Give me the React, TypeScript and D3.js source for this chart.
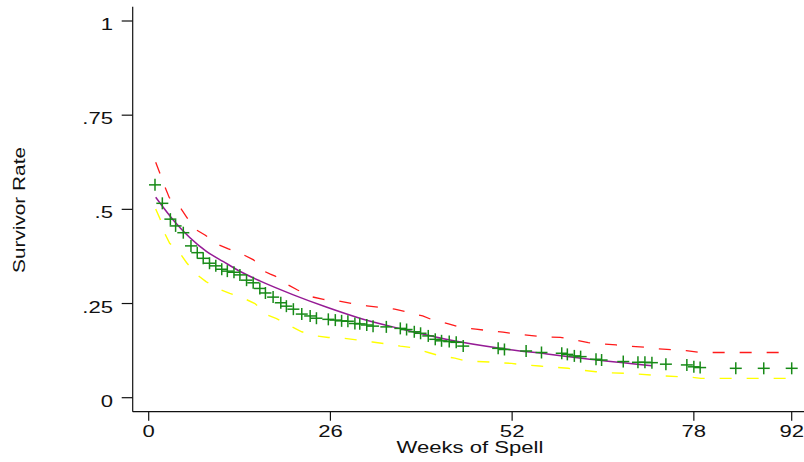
import React from "react";
import * as d3 from "d3";

// Kaplan-Meier estimates (green plus markers)
const kmWeeks = [0.9, 1.95, 3.1, 3.85, 4.95, 6.05, 6.95, 7.8, 8.7, 9.6, 10.45, 11.25, 12.2, 13.05, 14.0, 14.95, 15.9, 16.7, 17.8, 18.9, 19.7, 20.7, 21.9, 23.1, 24.0, 25.7, 26.7, 27.6, 28.5, 29.5, 30.2, 31.2, 32.1, 34.0, 36.0, 36.9, 38.0, 38.9, 40.0, 41.0, 41.9, 43.0, 44.0, 45.0, 50.0, 50.9, 54.0, 56.2, 59.1, 59.9, 60.9, 61.8, 64.0, 64.8, 67.9, 70.0, 71.0, 72.0, 74.0, 77.0, 78.0, 78.9, 84.0, 88.0, 92.0];
const kmSurv = [0.565, 0.516, 0.474, 0.456, 0.438, 0.403, 0.385, 0.370, 0.357, 0.350, 0.341, 0.336, 0.333, 0.326, 0.312, 0.305, 0.290, 0.278, 0.267, 0.252, 0.243, 0.235, 0.222, 0.217, 0.211, 0.208, 0.206, 0.204, 0.203, 0.197, 0.196, 0.193, 0.190, 0.188, 0.184, 0.181, 0.175, 0.171, 0.164, 0.155, 0.151, 0.149, 0.147, 0.137, 0.131, 0.128, 0.124, 0.120, 0.118, 0.115, 0.111, 0.109, 0.102, 0.100, 0.096, 0.094, 0.094, 0.093, 0.089, 0.087, 0.082, 0.080, 0.078, 0.078, 0.078];

// Fitted survivor curve (purple)
const fitWeeks = [1, 3.5, 8.3, 10.7, 13.1, 15.9, 20.7, 25.5, 30.2, 36.5, 43.1, 50.3, 57, 63.1, 72];
const fitSurv = [0.532, 0.472, 0.388, 0.361, 0.335, 0.31, 0.273, 0.24, 0.211, 0.181, 0.153, 0.131, 0.116, 0.102, 0.085];

// Upper confidence band (red dashed)
const upWeeks = [1, 1.6, 2.2, 2.95, 4.5, 5.4, 6.6, 8.05, 9.9, 11.4, 13.4, 15, 16.5, 17.4, 18.1, 19.7, 21.3, 23.3, 25, 27.1, 29, 31.2, 32.9, 35.2, 36.9, 39.2, 40.7, 42.9, 44.5, 46.8, 48.6, 50.7, 52.7, 54.8, 56.7, 58.9, 60.5, 62.9, 64.6, 66.9, 68.6, 71, 72.7, 75, 76.9, 79, 92];
const upSurv = [0.625, 0.596, 0.565, 0.531, 0.505, 0.48, 0.448, 0.432, 0.407, 0.395, 0.381, 0.366, 0.336, 0.328, 0.323, 0.302, 0.286, 0.268, 0.261, 0.257, 0.25, 0.244, 0.24, 0.235, 0.228, 0.217, 0.206, 0.196, 0.187, 0.182, 0.178, 0.174, 0.169, 0.165, 0.161, 0.16, 0.155, 0.146, 0.143, 0.14, 0.137, 0.134, 0.13, 0.127, 0.125, 0.12, 0.12];

// Lower confidence band (yellow dashed)
const loWeeks = [1, 1.6, 2.3, 3, 4.5, 5.4, 6.8, 8.2, 10.1, 11.6, 13.8, 15.2, 16.8, 18.3, 20.3, 21.9, 24, 25.7, 27.8, 30, 32, 34, 36, 37.6, 40, 41.7, 43.8, 45.5, 47.9, 49.5, 51.9, 53.6, 55.9, 57.4, 60, 61.7, 64, 65.8, 68, 69.8, 72.1, 73.9, 76, 77.8, 79, 92];
const loSurv = [0.501, 0.476, 0.436, 0.41, 0.383, 0.359, 0.328, 0.308, 0.288, 0.277, 0.262, 0.25, 0.221, 0.21, 0.19, 0.175, 0.164, 0.16, 0.158, 0.153, 0.148, 0.143, 0.137, 0.133, 0.12, 0.111, 0.105, 0.097, 0.0956, 0.094, 0.091, 0.0876, 0.084, 0.082, 0.078, 0.0735, 0.069, 0.066, 0.065, 0.063, 0.06, 0.0576, 0.0557, 0.054, 0.0514, 0.0514];

const xTicks = [0, 26, 52, 78, 92];
const yTicks = [0, 0.25, 0.5, 0.75, 1];
const yTickLabels = ["0", ".25", ".5", ".75", "1"];
const xTitle = "Weeks of Spell";
const yTitle = "Survivor Rate";

const W = 804;
const H = 462;
const FONT = "'Liberation Sans', Arial, Helvetica, sans-serif";

export default function App() {
  const x = d3.scaleLinear().domain([0, 92]).range([148.7, 791.7]);
  const y = d3.scaleLinear().domain([0, 1]).range([397.7, 21]);
  const axisX = 132.7;
  const axisY = 411.7;

  const pts = (ws: number[], vs: number[]) => ws.map((w, i) => [w, vs[i]] as [number, number]);
  const lineLin = d3.line<[number, number]>().x((d) => x(d[0])).y((d) => y(d[1]));
  const lineSmooth = d3
    .line<[number, number]>()
    .x((d) => x(d[0]))
    .y((d) => y(d[1]))
    .curve(d3.curveMonotoneX);

  const km = pts(kmWeeks, kmSurv);
  const hs = 6;

  return (
    <svg
      width={W}
      height={H}
      style={{ position: "absolute", left: 0, top: 0, background: "#fff" }}
      fontFamily={FONT}
    >
      <rect x={0} y={0} width={W} height={H} fill="#fff" />
      {/* axes */}
      <line x1={axisX} y1={6.7} x2={axisX} y2={axisY} stroke="#111" strokeWidth={1.2} />
      <line x1={axisX} y1={axisY} x2={W} y2={axisY} stroke="#111" strokeWidth={1.2} />
      {yTicks.map((t, i) => (
        <g key={"yt" + i}>
          <line x1={121.7} x2={axisX} y1={y(t)} y2={y(t)} stroke="#111" strokeWidth={1.2} />
          <text
            transform={`translate(113,${y(t) + 9}) scale(1.38,1)`}
            textAnchor="end"
            fontSize={16}
            fill="#111"
          >
            {yTickLabels[i]}
          </text>
        </g>
      ))}
      {xTicks.map((t, i) => (
        <g key={"xt" + i}>
          <line x1={x(t)} x2={x(t)} y1={axisY} y2={420.7} stroke="#111" strokeWidth={1.2} />
          <text
            transform={`translate(${x(t)},436.7) scale(1.38,1)`}
            textAnchor="middle"
            fontSize={16}
            fill="#111"
          >
            {t}
          </text>
        </g>
      ))}
      <text
        transform={`translate(470,453.3) scale(1.38,1)`}
        textAnchor="middle"
        fontSize={16}
        fill="#111"
      >
        {xTitle}
      </text>
      <text
        transform={`translate(25,210) rotate(-90) scale(1.3,1)`}
        textAnchor="middle"
        fontSize={16}
        fill="#111"
      >
        {yTitle}
      </text>

      {/* confidence bands */}
      <path
        d={lineLin(pts(upWeeks, upSurv)) || ""}
        fill="none"
        stroke="#ff1a1a"
        strokeWidth={1.3}
        strokeDasharray="12 15"
      />
      <path
        d={lineLin(pts(loWeeks, loSurv)) || ""}
        fill="none"
        stroke="#ffff00"
        strokeWidth={1.4}
        strokeDasharray="12 15"
      />
      {/* fitted curve */}
      <path
        d={lineSmooth(pts(fitWeeks, fitSurv)) || ""}
        fill="none"
        stroke="#951b95"
        strokeWidth={1.5}
      />
      {/* KM markers */}
      <g stroke="#178a17" strokeWidth={1.5}>
        {km.map((d, i) => (
          <g key={"m" + i}>
            <line x1={x(d[0]) - hs} x2={x(d[0]) + hs} y1={y(d[1])} y2={y(d[1])} />
            <line x1={x(d[0])} x2={x(d[0])} y1={y(d[1]) - hs} y2={y(d[1]) + hs} />
          </g>
        ))}
      </g>
    </svg>
  );
}
